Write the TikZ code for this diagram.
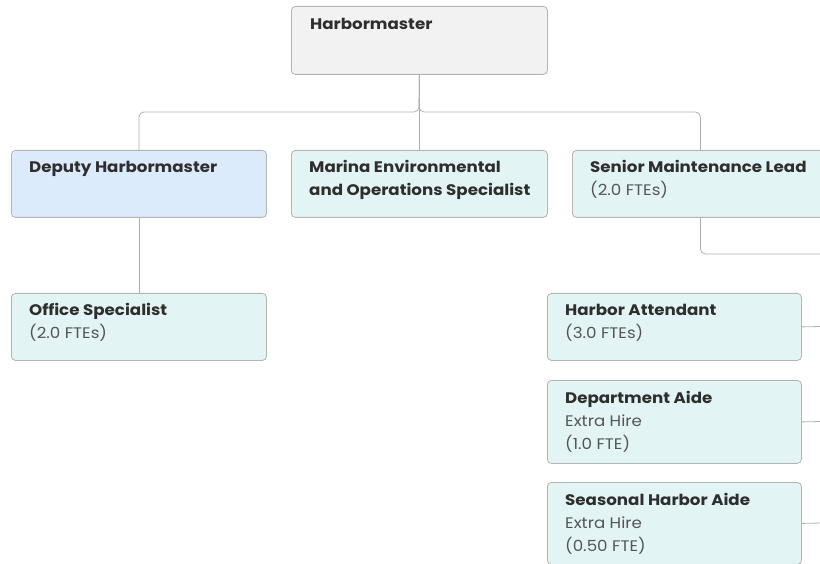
\documentclass[tikz,border=0pt]{standalone}
\usepackage{fontspec}
\setmainfont{Poppins}[FakeStretch=1.09]
\definecolor{boxline}{HTML}{B4B4B4}
\definecolor{conncol}{HTML}{B0B0B0}
\definecolor{greyfill}{HTML}{F2F2F2}
\definecolor{bluefill}{HTML}{DCEBFC}
\definecolor{tealfill}{HTML}{E3F4F4}
\definecolor{titlecol}{HTML}{2E2E2E}
\definecolor{subcol}{HTML}{555555}
\tikzset{
  card/.style={draw=boxline, line width=0.8pt, rounded corners=4pt, anchor=north west, inner sep=0pt},
  conn/.style={draw=conncol, line width=0.8pt, rounded corners=5pt},
  txt/.style={anchor=base west, inner sep=0pt, font=\fontsize{15.3}{23}\selectfont, text=subcol},
}
\newcommand{\ttl}[1]{{\bfseries\color{titlecol}#1}}
\newcommand{\stack}[1]{\vtop{\baselineskip=23pt\lineskiplimit=0pt\halign{##\hfil\cr#1\crcr}}}
\begin{document}
\begin{tikzpicture}[x=1pt,y=-1pt]
\useasboundingbox (0,0) rectangle (820,564);
% boxes
\node[card, fill=greyfill, minimum width=256pt, minimum height=68pt] (hm) at (291,6) {};
\node[card, fill=bluefill, minimum width=255pt, minimum height=67pt] (dep) at (11,150) {};
\node[card, fill=tealfill, minimum width=256pt, minimum height=67pt] (mar) at (291,150) {};
\node[card, fill=tealfill, minimum width=256pt, minimum height=67pt] (sen) at (572,150) {};
\node[card, fill=tealfill, minimum width=255pt, minimum height=67pt] (off) at (11,293) {};
\node[card, fill=tealfill, minimum width=254pt, minimum height=67pt] (ha) at (547,293) {};
\node[card, fill=tealfill, minimum width=254pt, minimum height=83pt] (da) at (547,380) {};
\node[card, fill=tealfill, minimum width=254pt, minimum height=82pt] (sa) at (547,482) {};
% texts
\node[txt] (hmt) at (310,30) {\ttl{Harbormaster}};
\node[txt] (dept) at (29,173) {\ttl{Deputy Harbormaster}};
\node[txt] (mart) at (309,173) {\stack{\ttl{Marina Environmental}\cr\ttl{and Operations Specialist}}};
\node[txt] (sent) at (590,173) {\stack{\ttl{Senior Maintenance Lead}\cr(2.0 FTEs)}};
\node[txt] (offt) at (29,316) {\stack{\ttl{Office Specialist}\cr(2.0 FTEs)}};
\node[txt] (hat) at (565,316) {\stack{\ttl{Harbor Attendant}\cr(3.0 FTEs)}};
\node[txt] (dat) at (565,403) {\stack{\ttl{Department Aide}\cr Extra Hire\cr(1.0 FTE)}};
\node[txt] (sat) at (565,505) {\stack{\ttl{Seasonal Harbor Aide}\cr Extra Hire\cr(0.50 FTE)}};
% connectors
\coordinate (bus) at (419,112);
\coordinate (offR) at (822,254);
\coordinate (haR) at (822,326.5);
\coordinate (daR) at (822,421.5);
\coordinate (saR) at (822,523);
\draw[conn] (hm.south) -- (bus) -| (dep.north);
\draw[conn] (hm.south) -- (bus) -| (sen.north);
\draw[conn] (hm.south) -- (mar.north);
\draw[conn] (dep.south) -- (off.north);
\draw[conn] (sen.south) |- (offR);
\draw[conn] (ha.east) -- (haR);
\draw[conn] (da.east) -- (daR);
\draw[conn] (sa.east) -- (saR);
\end{tikzpicture}
\end{document}
